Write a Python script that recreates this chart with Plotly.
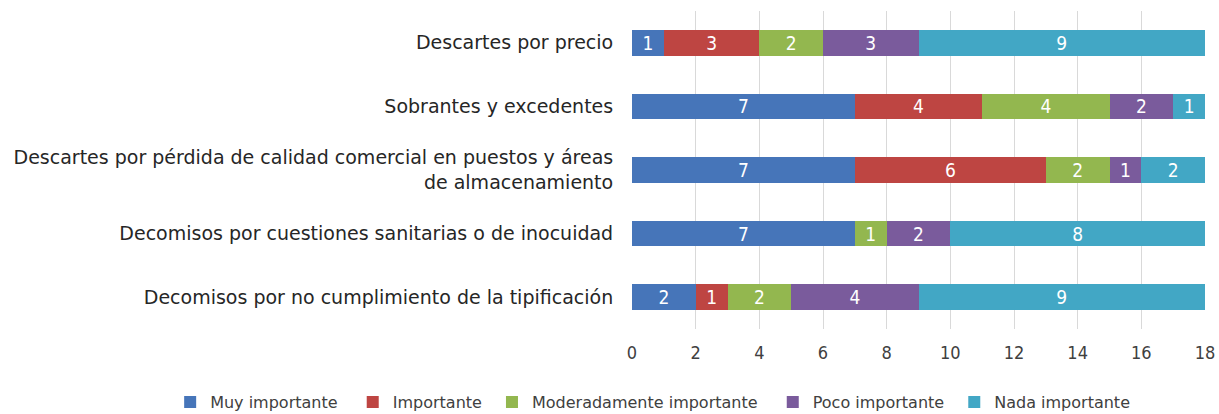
import plotly.graph_objects as go

categories = [
    "Descartes por precio",
    "Sobrantes y excedentes",
    "Descartes por pérdida de calidad comercial en puestos y áreas<br>de almacenamiento",
    "Decomisos por cuestiones sanitarias o de inocuidad",
    "Decomisos por no cumplimiento de la tipificación",
]
series_names = ["Muy importante", "Importante", "Moderadamente importante", "Poco importante", "Nada importante"]
muy = [1, 7, 7, 7, 2]
imp = [3, 4, 6, 0, 1]
mod = [2, 4, 2, 1, 2]
poco = [3, 2, 1, 2, 4]
nada = [9, 1, 2, 8, 9]
colors = ["#4675B9", "#BE4542", "#93B74F", "#7A5B9C", "#42A7C5"]
x_ticks = list(range(0, 19, 2))

# extra non-breaking spaces widen the gaps between legend entries
legend_pad = ["\u00a0\u00a0", "\u00a0", "\u00a0\u00a0", "\u00a0", ""]

FONT = "DejaVu Sans, sans-serif"
FONT_C = "DejaVu Sans Condensed, DejaVu Sans, sans-serif"

fig = go.Figure()
for name, pad, vals, col in zip(series_names, legend_pad, [muy, imp, mod, poco, nada], colors):
    fig.add_trace(go.Bar(
        y=categories, x=vals, name=name + pad, orientation="h",
        marker=dict(color=col, line=dict(width=0)),
        text=[str(v) if v else "" for v in vals],
        textposition="inside", insidetextanchor="middle", textangle=0,
        constraintext="none",
        textfont=dict(color="white", size=19, family=FONT_C),
        hoverinfo="x+name",
    ))

fig.update_layout(
    barmode="stack",
    bargap=0.6,
    width=1219, height=414,
    margin=dict(l=632, r=14, t=11, b=85, autoexpand=False),
    paper_bgcolor="white", plot_bgcolor="white",
    font=dict(family=FONT, color="#262626"),
    xaxis=dict(
        range=[0, 18], tickvals=x_ticks, showgrid=True, gridcolor="#D9D9D9", gridwidth=1,
        zeroline=False, showline=False, ticks="outside", ticklen=7, tickcolor="rgba(0,0,0,0)",
        tickfont=dict(size=18, color="#404040", family=FONT_C),
    ),
    yaxis=dict(
        autorange="reversed", showgrid=False, zeroline=False, showline=False,
        ticks="outside", ticklen=14, tickcolor="rgba(0,0,0,0)",
        tickfont=dict(size=19, color="#262626", family=FONT),
    ),
    legend=dict(
        orientation="h", x=-0.806, xanchor="left",
        y=-0.2296, yanchor="middle",
        font=dict(size=16, color="#404040", family=FONT),
        traceorder="normal",
    ),
)

fig.write_html("out.html", config={"displayModeBar": False},
               post_script="document.body.style.margin='0';")
